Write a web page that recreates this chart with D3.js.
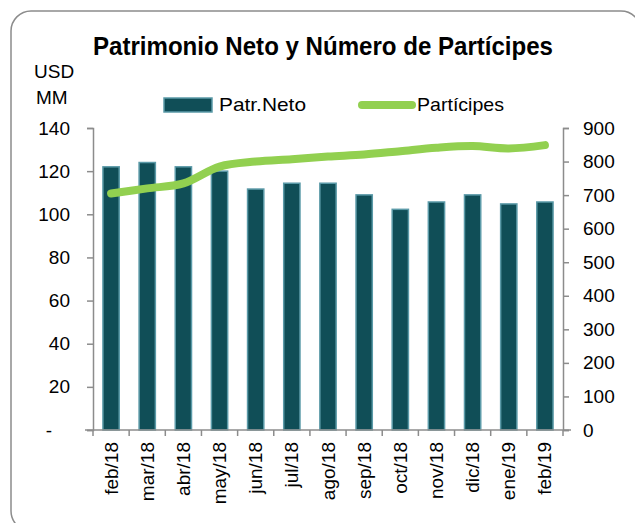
<!DOCTYPE html>
<html>
<head>
<meta charset="utf-8">
<script src="https://cdn.jsdelivr.net/npm/d3@7"></script>
<style>
  body { margin: 0; background: #fff; }
  text { font-family: "Liberation Sans", Arial, sans-serif; fill: #000; }
</style>
</head>
<body>
<script>
// chart data
const months = ["feb/18", "mar/18", "abr/18", "may/18", "jun/18", "jul/18", "ago/18",
                "sep/18", "oct/18", "nov/18", "dic/18", "ene/19", "feb/19"];
const patrNeto = [122, 124, 122, 120, 111.7, 114.4, 114.4, 109, 102.3, 105.7, 109, 104.8, 105.7];
const participes = [705, 720, 735, 785, 800, 807, 815, 821, 831, 841, 846, 839, 849];
const leftTicks = [0, 20, 40, 60, 80, 100, 120, 140];
const rightTicks = [0, 100, 200, 300, 400, 500, 600, 700, 800, 900];

const width = 635, height = 523;
const plotLeft = 93, plotRight = 563, plotTop = 128, plotBottom = 430;

const svg = d3.select("body").append("svg")
  .attr("width", width)
  .attr("height", height);

// outer frame
svg.append("rect")
  .attr("x", 11).attr("y", 11)
  .attr("width", 630).attr("height", 520)
  .attr("rx", 20).attr("ry", 20)
  .attr("fill", "none")
  .attr("stroke", "#8c8c8c")
  .attr("stroke-width", 1.5);

let x = d3.scaleBand()
  .domain(months)
  .range([plotLeft, plotRight]);

let yL = d3.scaleLinear().domain([0, 140]).range([plotBottom, plotTop]);
let yR = d3.scaleLinear().domain([0, 900]).range([plotBottom, plotTop]);

const barW = x.bandwidth() * 0.45;

// bars
svg.selectAll(".bar")
  .data(months)
  .join("rect")
  .attr("class", "bar")
  .attr("x", d => x(d) + (x.bandwidth() - barW) / 2)
  .attr("y", (d, i) => yL(patrNeto[i]))
  .attr("width", barW)
  .attr("height", (d, i) => plotBottom - yL(patrNeto[i]))
  .attr("fill", "#104e57")
  .attr("stroke", "#5b9aa8")
  .attr("stroke-width", 1.5);

// axes
const axisColor = "#8c8c8c";
function styleAxis(g) {
  g.select(".domain").attr("stroke", axisColor).attr("stroke-width", 1.5);
  g.selectAll(".tick line").attr("stroke", axisColor).attr("stroke-width", 1.5);
}

let gL = svg.append("g")
  .attr("transform", `translate(${plotLeft},0)`)
  .call(d3.axisLeft(yL).tickValues(leftTicks).tickSizeOuter(0).tickSize(6)
    .tickFormat(d => d === 0 ? "-" : d))
  .call(styleAxis);
gL.selectAll(".tick text")
  .attr("x", d => d === 0 ? -41 : -23)
  .attr("font-size", 19)
  .attr("font-family", "Liberation Sans, Arial, sans-serif")
  .attr("fill", "#000");

let gR = svg.append("g")
  .attr("transform", `translate(${plotRight},0)`)
  .call(d3.axisRight(yR).tickValues(rightTicks).tickSizeOuter(0).tickSize(6))
  .call(styleAxis);
gR.selectAll(".tick text")
  .attr("x", 20)
  .attr("font-size", 19)
  .attr("font-family", "Liberation Sans, Arial, sans-serif")
  .attr("fill", "#000");

// x axis baseline with ticks at category boundaries
svg.append("line")
  .attr("x1", plotLeft - 8).attr("x2", plotRight + 8)
  .attr("y1", plotBottom).attr("y2", plotBottom)
  .attr("stroke", axisColor).attr("stroke-width", 1.5);

let bounds = months.map(d => x(d)).concat([plotRight]);
svg.selectAll(".xtick")
  .data(bounds)
  .join("line")
  .attr("class", "xtick")
  .attr("x1", d => d).attr("x2", d => d)
  .attr("y1", plotBottom).attr("y2", plotBottom + 6)
  .attr("stroke", axisColor).attr("stroke-width", 1.5);

svg.selectAll(".xlabel")
  .data(months)
  .join("text")
  .attr("class", "xlabel")
  .attr("transform", d => `translate(${x(d) + x.bandwidth() / 2},${plotBottom + 12}) rotate(-90)`)
  .attr("text-anchor", "end")
  .attr("dominant-baseline", "central")
  .attr("font-size", 19)
  .text(d => d);

// participes line
let line = d3.line()
  .x((d, i) => x(months[i]) + x.bandwidth() / 2)
  .y(d => yR(d))
  .curve(d3.curveCatmullRom);

svg.append("path")
  .datum(participes)
  .attr("d", line)
  .attr("fill", "none")
  .attr("stroke", "#92d050")
  .attr("stroke-width", 8)
  .attr("stroke-linecap", "round");

// title and unit label
svg.append("text")
  .attr("x", 323).attr("y", 55)
  .attr("text-anchor", "middle")
  .attr("font-size", 25)
  .attr("font-weight", "bold")
  .attr("textLength", 460)
  .attr("lengthAdjust", "spacingAndGlyphs")
  .text("Patrimonio Neto y Número de Partícipes");

svg.append("text").attr("x", 34).attr("y", 78).attr("font-size", 19).text("USD");
svg.append("text").attr("x", 36).attr("y", 104).attr("font-size", 19).text("MM");

// legend
svg.append("rect")
  .attr("x", 164).attr("y", 98)
  .attr("width", 48).attr("height", 14)
  .attr("fill", "#104e57")
  .attr("stroke", "#5b9aa8")
  .attr("stroke-width", 1.5);
svg.append("text").attr("x", 219).attr("y", 111).attr("font-size", 19)
  .attr("textLength", 87).attr("lengthAdjust", "spacingAndGlyphs")
  .text("Patr.Neto");

svg.append("line")
  .attr("x1", 362).attr("x2", 412)
  .attr("y1", 105).attr("y2", 105)
  .attr("stroke", "#92d050")
  .attr("stroke-width", 8)
  .attr("stroke-linecap", "round");
svg.append("text").attr("x", 417).attr("y", 111).attr("font-size", 19)
  .attr("textLength", 87).attr("lengthAdjust", "spacingAndGlyphs")
  .text("Partícipes");
</script>
</body>
</html>
